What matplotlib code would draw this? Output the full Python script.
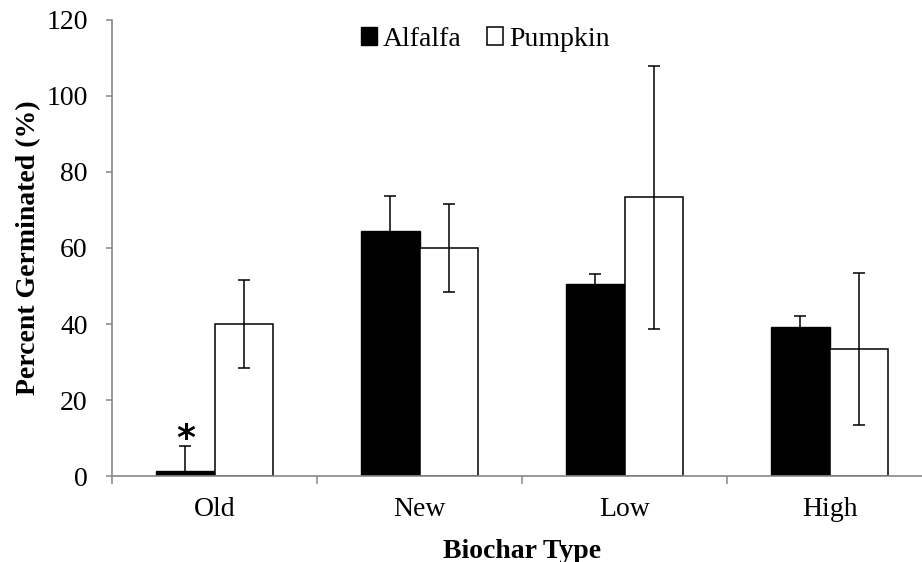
import numpy as np
import matplotlib
matplotlib.use("Agg")
from matplotlib import pyplot as plt

plt.rcParams['font.family'] = ['Liberation Serif', 'DejaVu Serif']

categories = ["Old", "New", "Low", "High"]
alfalfa = [1.3, 64.5, 50.5, 39.2]
alfalfa_err = [6.6, 9.2, 2.7, 3.0]
pumpkin = [40.0, 60.0, 73.3, 33.3]
pumpkin_err = [11.6, 11.6, 34.6, 20.0]

fig = plt.figure(figsize=(9.22, 5.62), dpi=100)
# plot area runs a bit past the right edge of the picture, as in the original
ax = fig.add_axes([112 / 922, 86 / 562, 820 / 922, 456 / 562])

x = np.arange(len(categories))
w = 0.283
ekw = dict(ecolor="black", elinewidth=1.1, capsize=4.5, capthick=1.1)
ax.bar(x - w / 2, alfalfa, w, color="black", edgecolor="black", linewidth=1,
       yerr=alfalfa_err, error_kw=ekw, label="Alfalfa")
ax.bar(x + w / 2, pumpkin, w, color="white", edgecolor="black", linewidth=1.1,
       yerr=pumpkin_err, error_kw=ekw, label="Pumpkin")

# significance mark above the Old alfalfa bar
ax.text(x[0] - w / 2, alfalfa[0] + alfalfa_err[0] + 6.2, "*", ha="center", va="top",
        fontsize=26, fontweight="bold", family="DejaVu Sans")

ax.set_xlim(-0.5, len(categories) - 0.5)
ax.set_ylim(0, 120)
ax.set_yticks(np.arange(0, 121, 20))
ax.set_xticks(x)
ax.set_xticklabels(categories)
ax.set_xticks(np.arange(-0.5, len(categories)), minor=True)
ax.tick_params(axis="x", which="major", length=0, labelsize=20, pad=15)
ax.tick_params(axis="x", which="minor", length=6, width=1.1, color="#888888", direction="out")
ax.tick_params(axis="y", length=4.5, width=1.1, color="#888888", labelsize=20, direction="out", pad=13)

for s in ["top", "right"]:
    ax.spines[s].set_visible(False)
for s in ["left", "bottom"]:
    ax.spines[s].set_color("#888888")
    ax.spines[s].set_linewidth(1.2)

ax.set_ylabel("Percent Germinated (%)", fontsize=20, fontweight="bold", labelpad=4)
ax.set_xlabel("Biochar Type", fontsize=20, fontweight="bold", labelpad=12)

ax.legend(loc="upper center", bbox_to_anchor=(0.455, 1.04), ncol=2, frameon=False,
          fontsize=20, handlelength=0.6, handleheight=0.6, handletextpad=0.2, columnspacing=0.9)

fig.savefig("out.png", dpi=100)
